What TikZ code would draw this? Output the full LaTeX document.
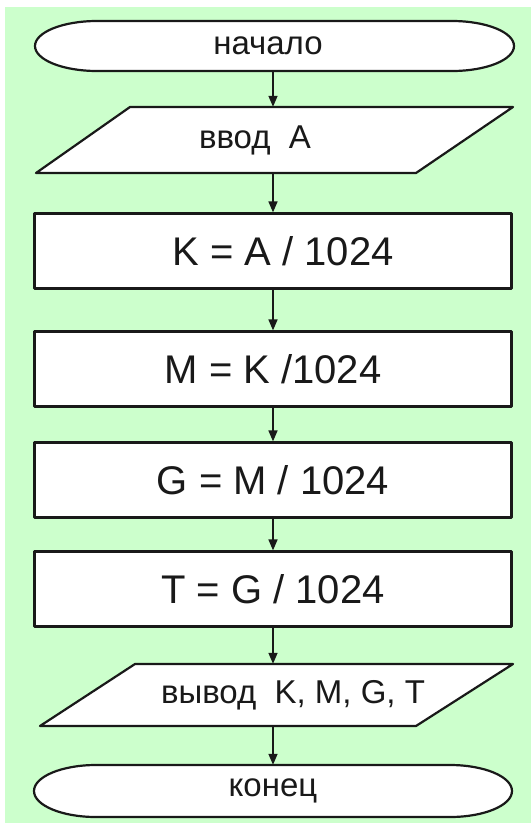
\documentclass[tikz,border=0pt]{standalone}
\usepackage{fontspec}
\setmainfont{Liberation Sans}
\usetikzlibrary{arrows.meta}
\definecolor{paleGreen}{RGB}{204,255,204}
\definecolor{inkGray}{RGB}{25,25,25}

\begin{document}
\begin{tikzpicture}[x=1pt, y=-1pt,
    shapeline/.style={draw=inkGray, line width=2.2pt, fill=white, line join=round},
    procbox/.style={shapeline, text=inkGray, minimum width=477pt, minimum height=75pt,
      inner sep=0pt, font=\fontsize{40}{44}\selectfont},
    termbox/.style={text=inkGray, minimum width=479pt, minimum height=50pt,
      inner sep=0pt, font=\fontsize{33}{38}\selectfont},
    iobox/.style={text=inkGray, minimum width=380pt, inner sep=0pt,
      font=\fontsize{33}{38}\selectfont},
    flowarrow/.style={draw=inkGray, line width=1.6pt, -{Triangle[length=11pt,width=9pt]}}]

  \useasboundingbox (0,0) rectangle (531,825);
  \fill[paleGreen] (5,7) rectangle (531,823);

  % terminators
  \draw[shapeline] (97,21) -- (452,21)
    arc[start angle=-90, end angle=90, x radius=62, y radius=25]
    -- (97,71) arc[start angle=90, end angle=270, x radius=62, y radius=25] -- cycle;
  \draw[shapeline] (96,765) -- (450,765)
    arc[start angle=-90, end angle=90, x radius=62, y radius=26]
    -- (96,817) arc[start angle=90, end angle=270, x radius=62, y radius=26] -- cycle;

  % input / output
  \draw[shapeline] (130,107) -- (513,107) -- (416,173) -- (36,173) -- cycle;
  \draw[shapeline] (135,664) -- (513,664) -- (416,726) -- (40,726) -- cycle;

  \node[termbox] (begin) at (273,46) {начало\hspace{10pt}\mbox{}};
  \node[iobox, minimum height=66pt] (inA) at (273,140) {ввод~~A\hspace{36pt}\mbox{}};
  \node[procbox] (kilo) at (273,251) {\hspace{20pt}K = A / 1024};
  \node[procbox] (mega) at (273,369) {M = K /1024};
  \node[procbox] (giga) at (273,480) {G = M / 1024};
  \node[procbox] (tera) at (273,589) {T = G / 1024};
  \node[iobox, minimum height=62pt] (outKMGT) at (273,695) {\hspace{40pt}вывод~~K, M, G, T};
  \node[termbox, minimum height=52pt] (finish) at (273,791) {конец};

  \draw[flowarrow] (begin.south) -- (inA.north);
  \draw[flowarrow] (inA.south) -- (kilo.north);
  \draw[flowarrow] (kilo.south) -- (mega.north);
  \draw[flowarrow] (mega.south) -- (giga.north);
  \draw[flowarrow] (giga.south) -- (tera.north);
  \draw[flowarrow] (tera.south) -- (outKMGT.north);
  \draw[flowarrow] (outKMGT.south) -- (finish.north);
\end{tikzpicture}
\end{document}
